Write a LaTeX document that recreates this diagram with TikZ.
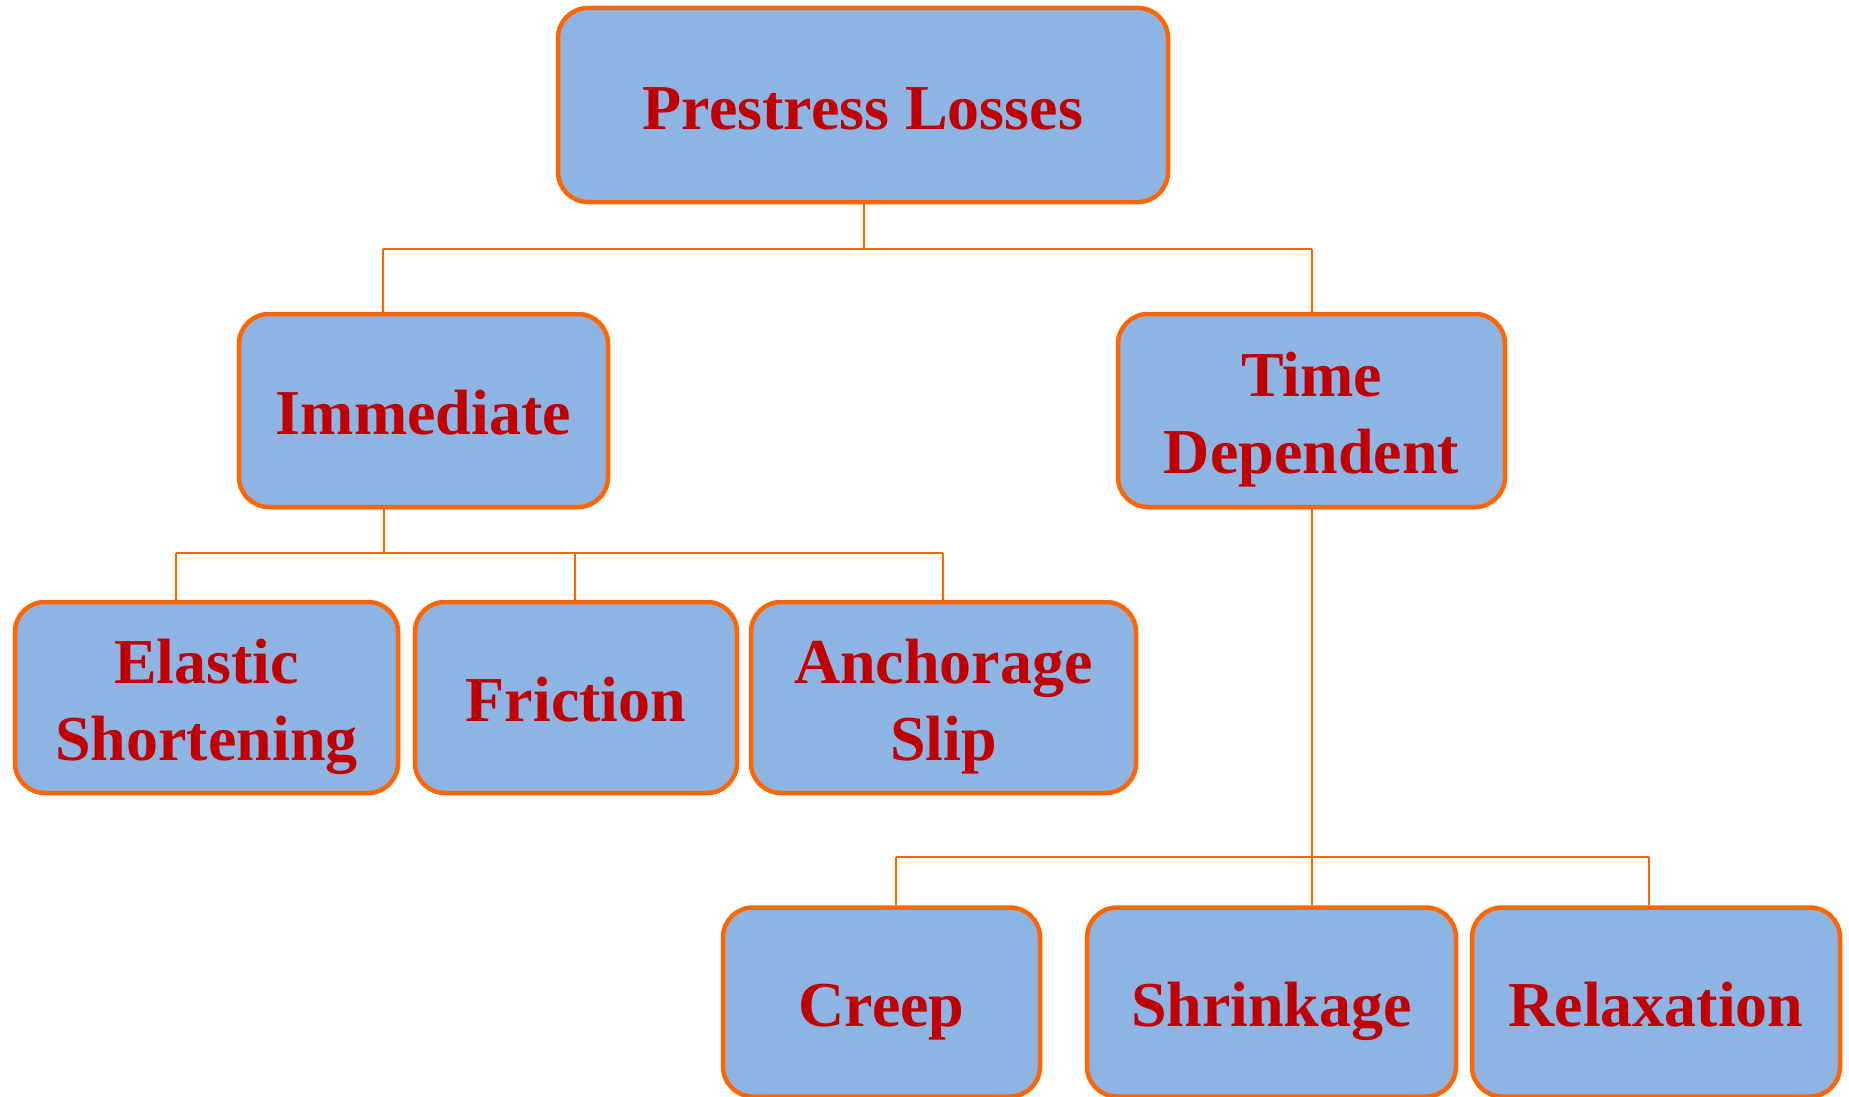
\documentclass[tikz,border=0pt]{standalone}
\usepackage{fontspec}
\setmainfont{Liberation Serif}
\usetikzlibrary{backgrounds}
\definecolor{boxborder}{HTML}{FF6600}
\definecolor{boxfill}{HTML}{8EB4E3}
\definecolor{txtred}{HTML}{C00000}
\begin{document}
\begin{tikzpicture}[x=1pt,y=-1pt,
  box/.style={draw=boxborder, line width=4.5pt, fill=boxfill, rounded corners=30pt,
    inner sep=0pt, text=txtred, font=\fontsize{64}{77}\selectfont\bfseries, align=center,
    text height=48pt, text depth=0pt},
  twoline/.style={text height=125pt},
  conn/.style={draw=boxborder, line width=2pt}]
\useasboundingbox (0,0) rectangle (1849,1097);
\node[box, minimum width=610pt, minimum height=194pt] (top) at (863,105) {Prestress Losses};
\node[box, minimum width=369pt, minimum height=193pt] (imm) at (423.5,410.5) {Immediate};
\node[box, twoline, minimum width=387pt, minimum height=193pt] (time) at (1311.5,410.5) {Time\\Dependent};
\node[box, twoline, minimum width=383pt, minimum height=191pt] (ela) at (206.5,697.5) {Elastic\\Shortening};
\node[box, minimum width=322pt, minimum height=191pt] (fri) at (576,697.5) {Friction};
\node[box, twoline, minimum width=385pt, minimum height=191pt] (anc) at (943.5,697.5) {Anchorage\\Slip};
\node[box, minimum width=317pt, minimum height=189pt] (cre) at (881.5,1002) {Creep};
\node[box, minimum width=369pt, minimum height=189pt] (shr) at (1271.5,1002) {Shrinkage};
\node[box, minimum width=368pt, minimum height=189pt] (rel) at (1656,1002) {Relaxation};
\coordinate (b1) at (864,249);
\coordinate (b1l) at (383,249);
\coordinate (b1r) at (1312,249);
\coordinate (b2) at (384,553);
\coordinate (b2l) at (176,553);
\coordinate (b2m) at (575,553);
\coordinate (b2r) at (943,553);
\coordinate (b3) at (1312,857);
\coordinate (b3l) at (896,857);
\coordinate (b3r) at (1649,857);
\begin{scope}[on background layer]
\draw[conn] (top.south -| b1) -- (b1);
\draw[conn] (b1l) -- (b1r);
\draw[conn] (b1l) -- (imm.north -| b1l);
\draw[conn] (b1r) -- (time.north -| b1r);
\draw[conn] (imm.south -| b2) -- (b2);
\draw[conn] (b2l) -- (b2r);
\draw[conn] (b2l) -- (ela.north -| b2l);
\draw[conn] (b2m) -- (fri.north -| b2m);
\draw[conn] (b2r) -- (anc.north -| b2r);
\draw[conn] (time.south -| b3) -- (shr.north -| b3);
\draw[conn] (b3l) -- (b3r);
\draw[conn] (b3l) -- (cre.north -| b3l);
\draw[conn] (b3r) -- (rel.north -| b3r);
\end{scope}
\end{tikzpicture}
\end{document}
